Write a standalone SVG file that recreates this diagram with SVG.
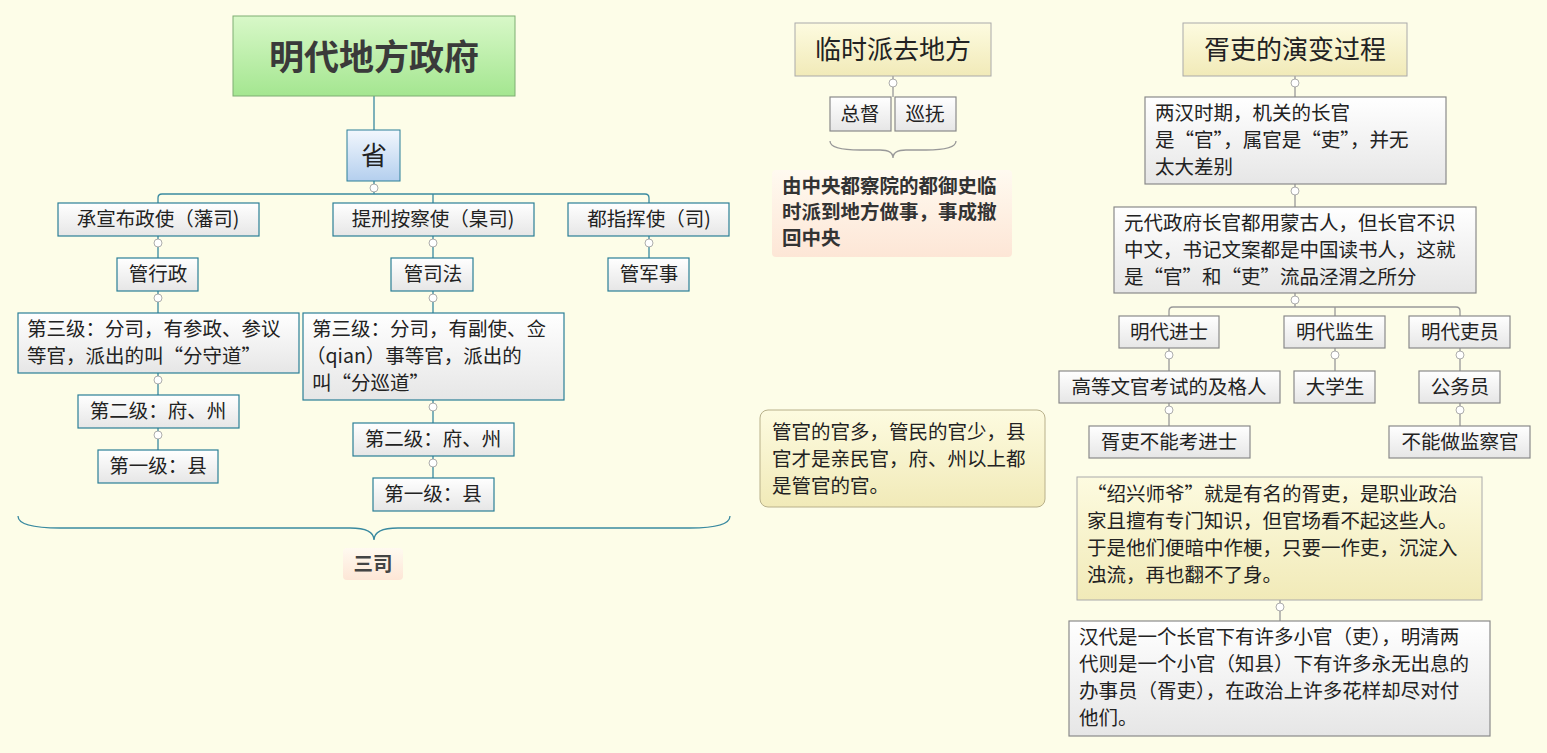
<svg xmlns="http://www.w3.org/2000/svg" width="1547" height="753" viewBox="0 0 1547 753">
<defs>
<linearGradient id="gw" x1="0" y1="0" x2="0" y2="1"><stop offset="0" stop-color="#ffffff"/><stop offset="1" stop-color="#e6e6e6"/></linearGradient>
<linearGradient id="gg" x1="0" y1="0" x2="0" y2="1"><stop offset="0" stop-color="#d8f8c8"/><stop offset="1" stop-color="#a4e690"/></linearGradient>
<linearGradient id="gb" x1="0" y1="0" x2="0" y2="1"><stop offset="0" stop-color="#f2f7fd"/><stop offset="1" stop-color="#b4cfee"/></linearGradient>
<linearGradient id="gy" x1="0" y1="0" x2="0" y2="1"><stop offset="0" stop-color="#fdfbe0"/><stop offset="1" stop-color="#f1eab8"/></linearGradient>
<linearGradient id="gp" x1="0" y1="0" x2="0" y2="1"><stop offset="0" stop-color="#fffaf0"/><stop offset="1" stop-color="#fde6d6"/></linearGradient>
</defs>
<style>
text{font-family:"Noto Sans CJK SC","Liberation Sans",sans-serif;fill:#222;font-size:19.5px}
.t{fill:url(#gw);stroke:#2b7f97;stroke-width:1.2}
.g{fill:url(#gw);stroke:#8a8a8a;stroke-width:1.2}
.c{text-anchor:middle}
.ln{fill:none;stroke:#3a8aa0;stroke-width:1.3}
.lg{fill:none;stroke:#999;stroke-width:1.3}
.k{fill:#fff;stroke:#999;stroke-width:0.8}
</style>
<rect width="1547" height="753" fill="#fdfde8"/>
<g id="connectors">
<path class="ln" d="M374 96V130M374 181V194M158 203V198Q158 194 162 194H645Q649 194 649 198V203M433 194V203M158 236V258M158 291V313M158 373V395M158 428V450M649 236V258M433 236V258M433 291V313M433 400V423M433 456V478"/>
<path class="ln" d="M18 516Q18 528 60 528H350Q374 528 374 540Q374 528 398 528H690Q730 528 730 516"/>
<path class="lg" d="M893 76V97M830 141Q830 150 860 150H880Q893 150 893 158Q893 150 906 150H926Q956 150 956 141"/>
<path class="lg" d="M1295 76V97M1295 184V207M1295 293V307M1169 316V311Q1169 307 1173 307H1456Q1460 307 1460 311V316M1335 307V316M1169 348V371M1169 403V426M1335 348V371M1460 348V371M1460 403V426M1280 600V621"/>
<g>
<circle class="k" cx="374" cy="188" r="4"/><circle class="k" cx="158" cy="243" r="4"/><circle class="k" cx="158" cy="298" r="4"/><circle class="k" cx="158" cy="380" r="4"/><circle class="k" cx="158" cy="435" r="4"/><circle class="k" cx="433" cy="243" r="4"/><circle class="k" cx="433" cy="298" r="4"/><circle class="k" cx="433" cy="407" r="4"/><circle class="k" cx="433" cy="463" r="4"/><circle class="k" cx="649" cy="243" r="4"/>
<circle class="k" cx="893" cy="83" r="4"/><circle class="k" cx="1295" cy="83" r="4"/><circle class="k" cx="1295" cy="191" r="4"/><circle class="k" cx="1295" cy="300" r="4"/><circle class="k" cx="1169" cy="355" r="4"/><circle class="k" cx="1169" cy="410" r="4"/><circle class="k" cx="1335" cy="355" r="4"/><circle class="k" cx="1460" cy="355" r="4"/><circle class="k" cx="1460" cy="410" r="4"/><circle class="k" cx="1280" cy="607" r="4"/>
</g>
</g>
<g id="title"><rect x="233" y="16" width="282" height="80" fill="url(#gg)" stroke="#7fae72"/><text x="374" y="70" class="c" style="font-size:35px;font-weight:bold;fill:#3a3a3a">明代地方政府</text></g>
<g id="sheng"><rect x="347" y="130" width="53" height="51" fill="url(#gb)" stroke="#2b7f97"/><text x="374" y="165" class="c" style="font-size:26px">省</text></g>
<g id="n1"><rect class="t" x="58" y="203" width="201" height="33"/><text x="158" y="226" class="c">承宣布政使（藩司)</text></g>
<g id="n2"><rect class="t" x="333" y="203" width="201" height="33"/><text x="433" y="226" class="c">提刑按察使（臬司)</text></g>
<g id="n3"><rect class="t" x="568" y="203" width="161" height="33"/><text x="649" y="226" class="c">都指挥使（司)</text></g>
<g id="n4"><rect class="t" x="117" y="258" width="81" height="33"/><text x="158" y="281" class="c">管行政</text></g>
<g id="n5"><rect class="t" x="391" y="258" width="82" height="33"/><text x="433" y="281" class="c">管司法</text></g>
<g id="n6"><rect class="t" x="608" y="258" width="81" height="33"/><text x="649" y="281" class="c">管军事</text></g>
<g id="n7"><rect class="t" x="18" y="313" width="281" height="60"/><text x="27" y="336">第三级：分司，有参政、参议</text><text x="27" y="363">等官，派出的叫“分守道”</text></g>
<g id="n8"><rect class="t" x="303" y="313" width="261" height="87"/><text x="312" y="336">第三级：分司，有副使、佥</text><text x="306" y="363">（qian）事等官，派出的</text><text x="312" y="390">叫“分巡道”</text></g>
<g id="n9"><rect class="t" x="78" y="395" width="161" height="33"/><text x="158" y="418" class="c">第二级：府、州</text></g>
<g id="n10"><rect class="t" x="353" y="423" width="161" height="33"/><text x="433" y="446" class="c">第二级：府、州</text></g>
<g id="n11"><rect class="t" x="98" y="450" width="120" height="33"/><text x="158" y="473" class="c">第一级：县</text></g>
<g id="n12"><rect class="t" x="373" y="478" width="121" height="33"/><text x="433" y="501" class="c">第一级：县</text></g>
<g id="sansi"><rect x="343" y="548" width="60" height="32" rx="4" fill="url(#gp)"/><text x="373" y="571" class="c" style="font-weight:bold;fill:#444">三司</text></g>
<g id="m1"><rect x="795" y="23" width="196" height="53" fill="url(#gy)" stroke="#aaa"/><text x="893" y="59" class="c" style="font-size:26px">临时派去地方</text></g>
<g id="m2"><rect class="g" x="830" y="97" width="61" height="34"/><text x="860" y="121" class="c">总督</text></g>
<g id="m3"><rect class="g" x="895" y="97" width="61" height="34"/><text x="925" y="121" class="c">巡抚</text></g>
<g id="m4"><rect x="772" y="170" width="240" height="87" rx="4" fill="url(#gp)"/><text x="782" y="193" style="font-weight:bold;fill:#333">由中央都察院的都御史临</text><text x="782" y="219" style="font-weight:bold;fill:#333">时派到地方做事，事成撤</text><text x="782" y="245" style="font-weight:bold;fill:#333">回中央</text></g>
<g id="m5"><rect x="760" y="410" width="285" height="97" rx="8" fill="url(#gy)" stroke="#b8b08a"/><text x="772" y="439">管官的官多，管民的官少，县</text><text x="772" y="466">官才是亲民官，府、州以上都</text><text x="772" y="493">是管官的官。</text></g>
<g id="r0"><rect x="1183" y="23" width="224" height="53" fill="url(#gy)" stroke="#aaa"/><text x="1295" y="59" class="c" style="font-size:26px">胥吏的演变过程</text></g>
<g id="r1"><rect class="g" x="1145" y="97" width="301" height="87"/><text x="1155" y="120">两汉时期，机关的长官</text><text x="1155" y="147">是“官”，属官是“吏”，并无</text><text x="1155" y="174">太大差别</text></g>
<g id="r2"><rect class="g" x="1114" y="207" width="362" height="86"/><text x="1124" y="230">元代政府长官都用蒙古人，但长官不识</text><text x="1124" y="257">中文，书记文案都是中国读书人，这就</text><text x="1124" y="284">是“官”和“吏”流品泾渭之所分</text></g>
<g id="r3"><rect class="g" x="1119" y="316" width="100" height="32"/><text x="1169" y="339" class="c">明代进士</text></g>
<g id="r4"><rect class="g" x="1284" y="316" width="101" height="32"/><text x="1335" y="339" class="c">明代监生</text></g>
<g id="r5"><rect class="g" x="1409" y="316" width="101" height="32"/><text x="1460" y="339" class="c">明代吏员</text></g>
<g id="r6"><rect class="g" x="1059" y="371" width="221" height="32"/><text x="1169" y="394" class="c">高等文官考试的及格人</text></g>
<g id="r7"><rect class="g" x="1294" y="371" width="81" height="32"/><text x="1335" y="394" class="c">大学生</text></g>
<g id="r8"><rect class="g" x="1419" y="371" width="81" height="32"/><text x="1460" y="394" class="c">公务员</text></g>
<g id="r9"><rect class="g" x="1089" y="426" width="161" height="32"/><text x="1169" y="449" class="c">胥吏不能考进士</text></g>
<g id="r10"><rect class="g" x="1389" y="426" width="141" height="32"/><text x="1460" y="449" class="c">不能做监察官</text></g>
<g id="r11"><rect x="1077" y="477" width="405" height="123" fill="url(#gy)" stroke="#aaa"/><text x="1087" y="501">“绍兴师爷”就是有名的胥吏，是职业政治</text><text x="1087" y="528">家且擅有专门知识，但官场看不起这些人。</text><text x="1087" y="555">于是他们便暗中作梗，只要一作吏，沉淀入</text><text x="1087" y="582">浊流，再也翻不了身。</text></g>
<g id="r12"><rect class="g" x="1069" y="621" width="421" height="115"/><text x="1079" y="644">汉代是一个长官下有许多小官（吏），明清两</text><text x="1079" y="671">代则是一个小官（知县）下有许多永无出息的</text><text x="1079" y="698">办事员（胥吏），在政治上许多花样却尽对付</text><text x="1079" y="725">他们。</text></g>
</svg>
